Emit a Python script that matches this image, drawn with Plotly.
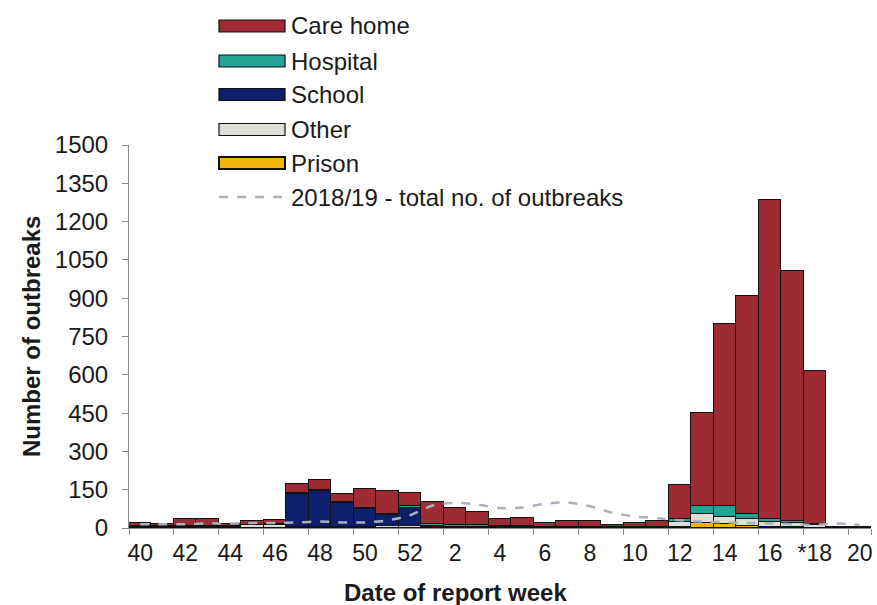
import plotly.graph_objects as go

# ---------------- data ----------------
weeks = [40, 41, 42, 43, 44, 45, 46, 47, 48, 49, 50, 51, 52,
         1, 2, 3, 4, 5, 6, 7, 8, 9, 10, 11, 12, 13, 14, 15, 16, 17, 18, 19, 20]
tick_weeks = [40, 42, 44, 46, 48, 50, 52, 2, 4, 6, 8, 10, 12, 14, 16, 18, 20]
tick_labels = ["40", "42", "44", "46", "48", "50", "52", "2", "4", "6", "8",
               "10", "12", "14", "16", "*18", "20"]

care_home = [12, 10, 28, 28, 8, 15, 14, 38, 40, 35, 72, 88, 52,
             84, 68, 52, 28, 33, 16, 22, 22, 9, 15, 25, 135, 365, 715, 855, 1250, 977, 600, 2, 1]
hospital = [3, 2, 3, 3, 2, 3, 3, 3, 3, 2, 5, 5, 5,
            8, 8, 8, 4, 4, 3, 3, 3, 2, 2, 2, 12, 30, 40, 18, 12, 8, 3, 0, 0]
school = [0, 0, 0, 0, 0, 0, 3, 128, 140, 93, 70, 45, 72,
          5, 0, 0, 0, 0, 0, 0, 0, 0, 0, 0, 0, 0, 0, 0, 0, 0, 0, 0, 0]
other = [5, 5, 4, 4, 5, 10, 10, 5, 5, 5, 5, 6, 8,
         3, 3, 2, 2, 2, 1, 2, 2, 1, 2, 2, 20, 35, 30, 30, 20, 17, 12, 3, 2]
prison = [0, 0, 0, 0, 0, 0, 0, 0, 0, 0, 0, 0, 0,
          0, 0, 0, 0, 0, 0, 0, 0, 0, 0, 0, 3, 20, 15, 6, 3, 3, 1, 0, 0]
prev_season = [15, 15, 15, 18, 18, 20, 20, 22, 25, 22, 22, 30, 50,
               88, 98, 92, 78, 80, 95, 100, 85, 60, 45, 38, 30, 25, 22, 20, 18, 15, 12, 18, 12]

series_names = ["Care home", "Hospital", "School", "Other", "Prison"]
series_colors = ["#9E2A33", "#23A394", "#0C1E6C", "#DEDED6", "#F2B30A"]
line_name = "2018/19 - total no. of outbreaks"
line_color = "#A9B3BE"

# ---------------- figure ----------------
W, H = 877, 605
# plot area in window pixels
PX0, PX1, PY1, PY0 = 129, 871, 145, 528
L, R, T, B = PX0, W - PX1, PY1, H - PY0

def px_x(p):
    return (p - PX0) / (PX1 - PX0)

def px_y(p):
    return (PY0 - p) / (PY0 - PY1)

cats = [str(w) for w in weeks]
stack = [("Prison", prison), ("Other", other), ("School", school),
         ("Hospital", hospital), ("Care home", care_home)]
color_of = dict(zip(series_names, series_colors))

fig = go.Figure()
for name, vals in stack:
    fig.add_trace(go.Bar(
        x=cats, y=[v if v else None for v in vals], name=name,
        marker=dict(color=color_of[name], line=dict(color="#111111", width=1)),
        showlegend=False,
    ))
fig.add_trace(go.Scatter(
    x=cats, y=prev_season, mode="lines", name=line_name,
    line=dict(color=line_color, width=2.5, dash="dash", shape="spline", smoothing=0.8),
    showlegend=False,
))

font_family = "Liberation Sans, Arial, sans-serif"
fig.update_layout(
    width=W, height=H,
    margin=dict(l=L, r=R, t=T, b=B, pad=0),
    paper_bgcolor="white", plot_bgcolor="white",
    barmode="stack", bargap=0,
    font=dict(family=font_family, size=24, color="#1a1a1a"),
)
fig.update_xaxes(
    type="category", categoryorder="array", categoryarray=cats,
    tickmode="array", tickvals=[str(w) for w in tick_weeks], ticktext=tick_labels,
    tickson="boundaries", ticks="outside", ticklen=6, tickcolor="#8a8a8a",
    showline=True, linecolor="#8a8a8a", linewidth=1, showgrid=False,
    tickfont=dict(size=23), ticklabelstandoff=4, tickangle=0, automargin=False,
)
fig.update_yaxes(
    range=[0, 1500], tickmode="linear", tick0=0, dtick=150,
    ticks="outside", ticklen=6, tickcolor="#8a8a8a",
    showline=True, linecolor="#8a8a8a", linewidth=1, showgrid=False, zeroline=False,
    tickfont=dict(size=24), ticklabelstandoff=9, automargin=False,
)

# axis titles
fig.add_annotation(text="<b>Date of report week</b>", xref="paper", yref="paper",
                   x=px_x(455), y=px_y(592), showarrow=False,
                   xanchor="center", yanchor="middle", font=dict(size=24))
fig.add_annotation(text="<b>Number of outbreaks</b>", xref="paper", yref="paper",
                   x=px_x(31), y=px_y(337), showarrow=False, textangle=-90,
                   xanchor="center", yanchor="middle", font=dict(size=24))

# legend (drawn manually to match wide swatches)
rows_y = [26, 61, 94.5, 129.5, 163, 197]
sw_l, sw_r, sw_h = 219, 285, 12
for i, name in enumerate(series_names):
    cy = rows_y[i]
    fig.add_shape(type="rect", xref="paper", yref="paper",
                  x0=px_x(sw_l), x1=px_x(sw_r), y0=px_y(cy + sw_h / 2), y1=px_y(cy - sw_h / 2),
                  fillcolor=color_of[name], line=dict(color="#111111", width=2 if name == "Prison" else 1.2))
    fig.add_annotation(text=name, xref="paper", yref="paper", x=px_x(289), y=px_y(cy),
                       showarrow=False, xanchor="left", yanchor="middle", font=dict(size=24))
cy = rows_y[5]
fig.add_shape(type="line", xref="paper", yref="paper",
              x0=px_x(sw_l), x1=px_x(sw_r), y0=px_y(cy), y1=px_y(cy),
              line=dict(color=line_color, width=2.5, dash="dash"))
fig.add_annotation(text=line_name, xref="paper", yref="paper", x=px_x(289), y=px_y(cy),
                   showarrow=False, xanchor="left", yanchor="middle", font=dict(size=24))

# remove the default page margin so the 877x605 figure fills the window exactly
fig.write_html("out.html",
               config={"displayModeBar": False},
               post_script="document.body.style.margin='0';document.body.style.overflow='hidden';")
